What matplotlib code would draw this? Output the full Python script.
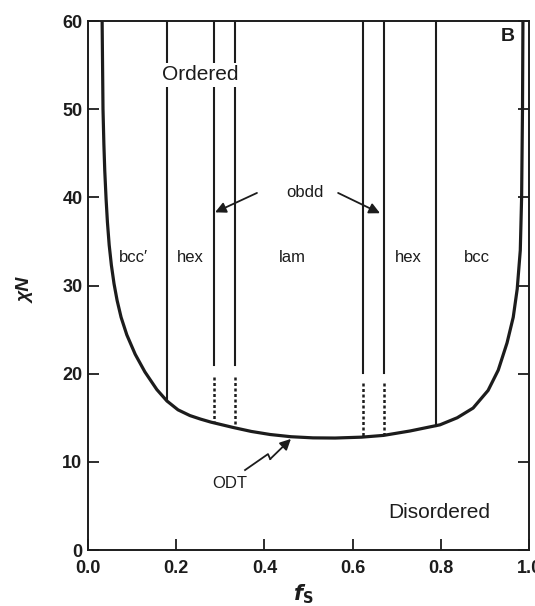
import numpy as np
import matplotlib.pyplot as plt

plt.rcParams['font.family'] = ['Liberation Sans', 'DejaVu Sans']

# ODT curve (f_S, chi N)
odt_f = [0.032, 0.033, 0.034, 0.036, 0.038, 0.041, 0.044, 0.048, 0.053, 0.059,
         0.066, 0.075, 0.088, 0.107, 0.129, 0.156, 0.179, 0.204, 0.231, 0.255,
         0.279, 0.329, 0.370, 0.413, 0.460, 0.510, 0.560, 0.620, 0.670, 0.730,
         0.798, 0.837, 0.873, 0.907, 0.930, 0.950, 0.964, 0.973, 0.980, 0.983,
         0.985, 0.986]
odt_chin = [60.0, 55.0, 50.0, 46.0, 43.0, 39.8, 37.2, 34.6, 32.3, 30.2,
            28.3, 26.4, 24.4, 22.2, 20.2, 18.2, 16.9, 15.9, 15.25, 14.85,
            14.5, 13.9, 13.45, 13.1, 12.85, 12.72, 12.7, 12.8, 13.0, 13.5,
            14.2, 15.0, 16.1, 18.1, 20.4, 23.5, 26.4, 29.6, 34.0, 40.0,
            50.0, 60.0]

# phase boundaries (solid, from top down to the ODT)
bound_f = [0.180, 0.790]
bound_low = [16.9, 14.1]

# obdd lines: solid part, then dotted part down to the ODT
obdd_f = [0.285, 0.334, 0.624, 0.672]
obdd_solid_low = [21.0, 21.0, 20.1, 20.1]
obdd_dot_top = [19.6, 19.6, 18.9, 18.9]
obdd_dot_low = [14.4, 13.9, 12.8, 13.0]

phase_names = ["bcc\u2032", "hex", "lam", "hex", "bcc"]
phase_x = [0.102, 0.231, 0.463, 0.726, 0.882]

# zigzag pointer for ODT label
zig_f = [0.356, 0.408, 0.413]
zig_chin = [9.07, 10.88, 10.32]

ink = '#1c1c1c'

fig = plt.figure(figsize=(5.35, 6.06), dpi=100)
ax = fig.add_axes([0.1645, 0.0924, 0.8245, 0.8729])

ax.plot(odt_f, odt_chin, color=ink, lw=2.3, solid_joinstyle='round')

for x, lo in zip(bound_f, bound_low):
    ax.plot([x, x], [60, lo], color=ink, lw=1.5)

for x, lo, dt, dl in zip(obdd_f, obdd_solid_low, obdd_dot_top, obdd_dot_low):
    ax.plot([x, x], [60, lo], color=ink, lw=1.5)
    ax.plot([x, x], [dt, dl], color=ink, lw=1.8, dashes=(1.2, 1.0))

for name, x in zip(phase_names, phase_x):
    ax.text(x, 33.2, name, ha='center', va='center', fontsize=12, color=ink)

ax.text(0.254, 53.9, "Ordered", ha='center', va='center', fontsize=15, color=ink,
        bbox=dict(facecolor='white', edgecolor='none', pad=2), zorder=5)
ax.text(0.796, 4.3, "Disordered", ha='center', va='center', fontsize=15, color=ink)
ax.text(0.952, 58.2, "B", ha='center', va='center', fontsize=14,
        fontweight='bold', color=ink)
ax.text(0.492, 40.6, "obdd", ha='center', va='center', fontsize=12, color=ink)
ax.text(0.322, 7.6, "ODT", ha='center', va='center', fontsize=12, color=ink)

arrow = dict(arrowstyle='-|>', color=ink, lw=1.3, mutation_scale=16,
             shrinkA=0, shrinkB=0)
ax.annotate("", xy=(0.288, 38.3), xytext=(0.383, 40.5), arrowprops=arrow)
ax.annotate("", xy=(0.662, 38.2), xytext=(0.567, 40.5), arrowprops=arrow)

ax.plot(zig_f, zig_chin, color=ink, lw=1.3)
ax.annotate("", xy=(0.460, 12.6), xytext=(zig_f[-1], zig_chin[-1]), arrowprops=arrow)

ax.set_xlim(0, 1.0)
ax.set_ylim(0, 60)
ax.set_xticks([0.0, 0.2, 0.4, 0.6, 0.8, 1.0])
ax.set_xticklabels(["0.0", "0.2", "0.4", "0.6", "0.8", "1.0"])
ax.set_yticks([0, 10, 20, 30, 40, 50, 60])
ax.tick_params(direction='in', length=8, width=1.3, colors=ink,
               labelsize=13, right=True, top=False)
ax.tick_params(axis='x', pad=7)
ax.tick_params(axis='y', pad=4)
for lab in ax.get_xticklabels() + ax.get_yticklabels():
    lab.set_fontweight('bold')
for sp in ax.spines.values():
    sp.set_linewidth(1.4)
    sp.set_color(ink)

ax.set_ylabel("\u03c7N", fontsize=14, fontweight='bold', fontstyle='italic',
              color=ink)
ax.yaxis.label.set_va('center')
ax.yaxis.set_label_coords(-0.14, 0.49)
ax.set_xlabel(r"$\mathbfit{f}_\mathbf{S}$", fontsize=15, color=ink)
ax.xaxis.label.set_va('center')
ax.xaxis.set_label_coords(0.488, -0.083)

fig.savefig("out.png", dpi=100)
